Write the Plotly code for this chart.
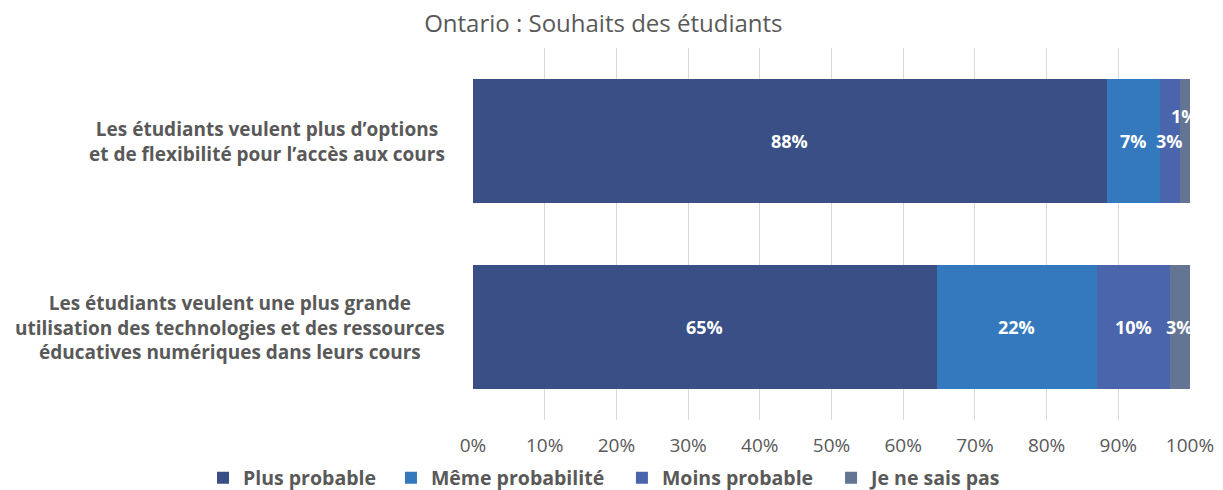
import plotly.graph_objects as go

# Data
categories = [
    "Les étudiants veulent plus d’options<br>et de flexibilité pour l’accès aux cours",
    "Les étudiants veulent une plus grande<br>utilisation des technologies et des ressources<br>éducatives numériques dans leurs cours",
]
series_names = ["Plus probable", "Même probabilité", "Moins probable", "Je ne sais pas"]
plus_probable = [88.4, 64.7]
meme_probabilite = [7.4, 22.3]
moins_probable = [2.8, 10.2]
je_ne_sais_pas = [1.4, 2.8]
tick_vals = [0, 10, 20, 30, 40, 50, 60, 70, 80, 90, 100]
tick_text = ["0%", "10%", "20%", "30%", "40%", "50%", "60%", "70%", "80%", "90%", "100%"]

colors = ["#3A4F85", "#3479BE", "#4A65AB", "#647593"]
series = [plus_probable, meme_probabilite, moins_probable, je_ne_sais_pas]
font_family = "Open Sans"
grey = "#595959"

# one legend per series so the entries sit on a single row like the original
legend_ids = ["legend", "legend2", "legend3", "legend4"]
legend_x = [0.1605, 0.3152, 0.5053, 0.6774]

fig = go.Figure()
for name, vals, col, lid in zip(series_names, series, colors, legend_ids):
    fig.add_trace(go.Bar(
        y=categories, x=vals, name=name, orientation="h",
        marker=dict(color=col, line=dict(width=0)),
        width=0.665, legend=lid,
    ))

# Data labels at segment centers
annotations = []
for i, cat in enumerate(categories):
    left = 0
    for vals in series:
        v = vals[i]
        # the tiny 1% label sits above the segment
        shift = 25 if v < 2 else 0
        annotations.append(dict(
            x=left + v / 2, y=cat, xref="x", yref="y",
            text="%d%%" % round(v), showarrow=False, yshift=shift,
            font=dict(family=font_family, size=18, color="white", weight="bold"),
        ))
        left += v

# Category labels, centered lines
for cat in categories:
    annotations.append(dict(
        x=-0.036, y=cat, xref="paper", yref="y", xanchor="right",
        text=cat, showarrow=False, align="center",
        font=dict(family=font_family, size=19, color=grey, weight="bold"),
    ))

legend_style = dict(orientation="h", xref="container", xanchor="left",
                    y=0.025, yref="container", yanchor="middle",
                    font=dict(family=font_family, size=19.5, color=grey, weight="bold"),
                    itemwidth=30, bgcolor="rgba(0,0,0,0)")

# page body has an 8px margin, so the figure is a bit smaller than the window
fig.update_layout(
    barmode="stack",
    width=1215, height=482,
    margin=dict(l=465, r=33, t=40, b=70, autoexpand=False),
    paper_bgcolor="white", plot_bgcolor="white",
    title=dict(text="Ontario : Souhaits des étudiants", x=0.49, xref="container",
               y=0.968, yref="container", xanchor="center", yanchor="middle",
               font=dict(family=font_family, size=24, color=grey)),
    xaxis=dict(range=[0, 100], tickvals=tick_vals, ticktext=tick_text,
               showgrid=True, gridcolor="#D9D9D9", gridwidth=1,
               zeroline=False, showline=False, automargin=False,
               ticks="outside", ticklen=8, tickcolor="rgba(0,0,0,0)",
               tickfont=dict(family=font_family, size=19, color=grey)),
    yaxis=dict(autorange="reversed", showticklabels=False, showgrid=False,
               range=[1.5, -0.5], automargin=False),
    showlegend=True,
    annotations=annotations,
    bargap=0.335,
)
for lid, lx in zip(legend_ids, legend_x):
    fig.update_layout({lid: dict(legend_style, x=lx)})

fig.write_html("out.html")
